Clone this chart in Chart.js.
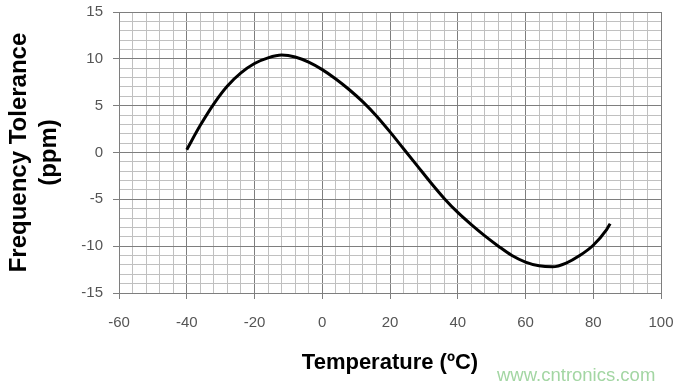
<!DOCTYPE html>
<html><head><meta charset="utf-8">
<script src="https://cdn.jsdelivr.net/npm/chart.js@4.4.1/dist/chart.umd.min.js"></script>
<style>html,body{margin:0;padding:0;background:#fff;overflow:hidden}#wrap{width:678px;height:389px;position:relative}</style>
</head><body><div id="wrap"><canvas id="c" width="678" height="389"></canvas></div>
<script>
const temperatures = [-40,-36,-32,-28,-24,-20,-16,-12,-8,-4,0,4,8,12,16,20,24,28,32,36,40,44,48,52,56,60,64,68,72,76,80,84,85];
const tolerancePpm = [0.3,2.9,5.2,7.1,8.5,9.5,10.1,10.4,10.2,9.65,8.85,7.85,6.7,5.4,3.9,2.2,0.4,-1.4,-3.2,-4.9,-6.4,-7.7,-8.9,-10.0,-11.0,-11.7,-12.1,-12.2,-11.8,-11.0,-9.9,-8.2,-7.6];
const xTickLabels = [-60,-40,-20,0,20,40,60,80,100];
const yTickLabels = [-15,-10,-5,0,5,10,15];
const xTitle = 'Temperature (ºC)';
const yTitle = ['Frequency Tolerance','(ppm)'];
const watermark = 'www.cntronics.com';

const MAJOR = '#7e7e7e', MINOR = '#c0c0c0';
const points = temperatures.map((t,i)=>({x:t,y:tolerancePpm[i]}));

const watermarkPlugin = {
  id:'wm',
  afterDraw(chart){
    const ctx = chart.ctx;
    ctx.save();
    ctx.font = '18.5px "Liberation Sans", Arial, sans-serif';
    ctx.fillStyle = '#a3d6a3';
    ctx.textAlign = 'left';
    ctx.textBaseline = 'alphabetic';
    ctx.fillText(watermark, 497, 381);
    ctx.restore();
  }
};

new Chart(document.getElementById('c'), {
  type:'line',
  data:{datasets:[{data:points,borderColor:'#000',borderWidth:3,pointRadius:0,cubicInterpolationMode:'monotone',fill:false}]},
  options:{
    responsive:false,animation:false,
    layout:{padding:{top:12,right:17,left:0,bottom:0}},
    plugins:{legend:{display:false},tooltip:{enabled:false}},
    scales:{
      x:{type:'linear',min:-60,max:100,
        afterFit(s){s.height=96;s.paddingLeft=0;s.paddingRight=0;},
        ticks:{stepSize:4,autoSkip:false,maxRotation:0,padding:15,color:'#555',
          font:{family:'"Liberation Sans", Arial, sans-serif',size:15},
          callback:v=>xTickLabels.includes(v)?String(v):''},
        grid:{color:c=>(c.tick&&c.tick.value%20===0)?MAJOR:MINOR,
          tickColor:c=>(c.tick&&c.tick.value%20===0)?MAJOR:'rgba(0,0,0,0)',tickLength:6,lineWidth:1},
        border:{color:MAJOR},
        title:{display:true,text:xTitle,color:'#000',padding:{top:0,bottom:13},
          font:{family:'"Liberation Sans", Arial, sans-serif',size:22,weight:'bold',lineHeight:1.2}}
      },
      y:{type:'linear',min:-15,max:15,
        afterFit(s){s.width=119;s.paddingTop=0;s.paddingBottom=0;},
        ticks:{stepSize:1,autoSkip:false,padding:10,color:'#555',
          font:{family:'"Liberation Sans", Arial, sans-serif',size:15},
          callback:v=>yTickLabels.includes(v)?String(v):''},
        grid:{color:c=>(c.tick&&c.tick.value%5===0)?MAJOR:MINOR,
          tickColor:c=>(c.tick&&c.tick.value%5===0)?MAJOR:'rgba(0,0,0,0)',tickLength:6,lineWidth:1},
        border:{color:MAJOR},
        title:{display:true,text:yTitle,color:'#000',padding:{top:4,bottom:0},
          font:{family:'"Liberation Sans", Arial, sans-serif',size:24,weight:'bold',lineHeight:1.25}}
      }
    }
  },
  plugins:[watermarkPlugin]
});
</script></body></html>
